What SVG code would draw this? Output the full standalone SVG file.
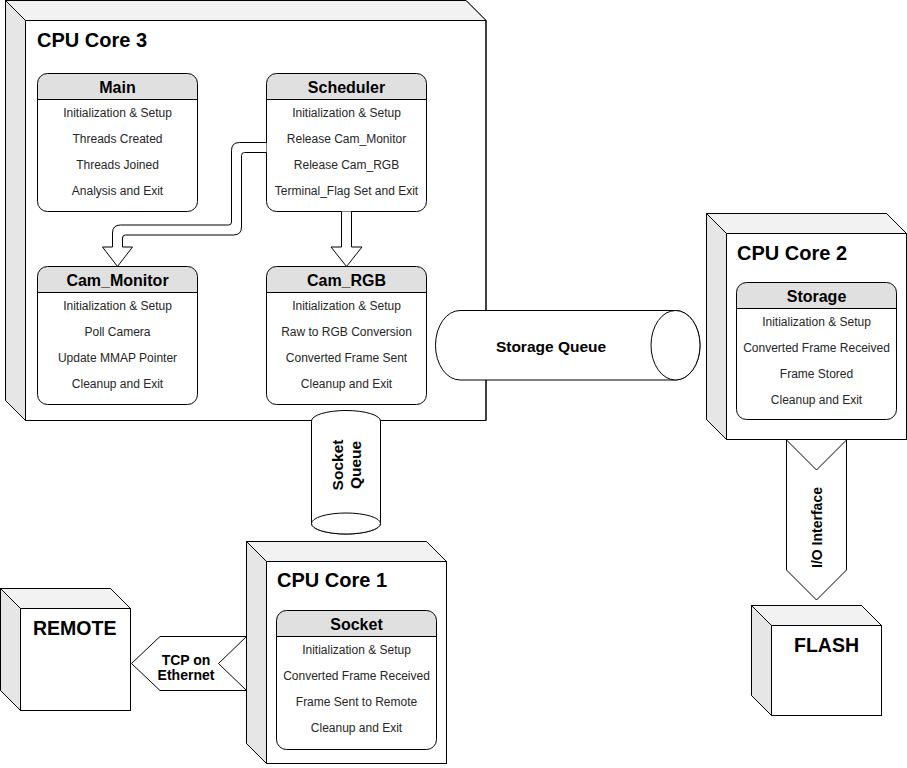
<svg xmlns="http://www.w3.org/2000/svg" width="907" height="768" viewBox="0 0 907 768">
<style>
.outer{fill:#fff;stroke:#000;stroke-width:1}
.top{fill:#f2f2f2;stroke:none}
.side{fill:#e6e6e6;stroke:none}
.edge{fill:none;stroke:#000;stroke-width:1}
.box{fill:none;stroke:#000;stroke-width:1}
.boxbg{fill:#fff;stroke:none}
.hdr{fill:#e0e0e0;stroke:none}
.title{font-family:"Liberation Sans",Arial,sans-serif;font-weight:bold;font-size:20px;fill:#000}
.big{font-family:"Liberation Sans",Arial,sans-serif;font-weight:bold;font-size:19.5px;fill:#000}
.hname{font-family:"Liberation Sans",Arial,sans-serif;font-weight:bold;font-size:16px;fill:#000;text-anchor:middle}
.item{font-family:"Liberation Sans",Arial,sans-serif;font-size:12px;fill:#262626;text-anchor:middle}
.lbl{font-family:"Liberation Sans",Arial,sans-serif;font-weight:bold;font-size:14px;fill:#000;text-anchor:middle}
.qlbl{font-family:"Liberation Sans",Arial,sans-serif;font-weight:bold;font-size:15.5px;fill:#000;text-anchor:middle}
.shape{fill:#fff;stroke:#000;stroke-width:1}
</style>

<!-- CPU Core 3 -->
<g id="core3">
  <path class="outer" d="M5.5,0.5 L466,0.5 L486,20.5 L486,420.5 L25.5,420.5 L5.5,400.5 Z"/>
  <path class="top" d="M5.5,0.5 L466,0.5 L486,20.5 L25.5,20.5 Z"/>
  <path class="side" d="M5.5,0.5 L25.5,20.5 L25.5,420.5 L5.5,400.5 Z"/>
  <path class="edge" d="M5.5,0.5 L466,0.5 L486,20.5 L486,420.5 L25.5,420.5 L5.5,400.5 Z M5.5,0.5 L25.5,20.5 L486,20.5 M25.5,20.5 L25.5,420.5"/>
  <text class="title" x="37" y="47">CPU Core 3</text>
</g>

<!-- CPU Core 2 -->
<g id="core2">
  <path class="outer" d="M706.5,213.5 L886.5,213.5 L906.5,233.5 L906.5,439.5 L726.5,439.5 L706.5,419.5 Z"/>
  <path class="top" d="M706.5,213.5 L886.5,213.5 L906.5,233.5 L726.5,233.5 Z"/>
  <path class="side" d="M706.5,213.5 L726.5,233.5 L726.5,439.5 L706.5,419.5 Z"/>
  <path class="edge" d="M706.5,213.5 L886.5,213.5 L906.5,233.5 L906.5,439.5 L726.5,439.5 L706.5,419.5 Z M706.5,213.5 L726.5,233.5 L906.5,233.5 M726.5,233.5 L726.5,439.5"/>
  <text class="title" x="737" y="260">CPU Core 2</text>
</g>

<!-- CPU Core 1 -->
<g id="core1">
  <path class="outer" d="M246.5,541.5 L426.5,541.5 L446.5,561.5 L446.5,763.5 L266.5,763.5 L246.5,743.5 Z"/>
  <path class="top" d="M246.5,541.5 L426.5,541.5 L446.5,561.5 L266.5,561.5 Z"/>
  <path class="side" d="M246.5,541.5 L266.5,561.5 L266.5,763.5 L246.5,743.5 Z"/>
  <path class="edge" d="M246.5,541.5 L426.5,541.5 L446.5,561.5 L446.5,763.5 L266.5,763.5 L246.5,743.5 Z M246.5,541.5 L266.5,561.5 L446.5,561.5 M266.5,561.5 L266.5,763.5"/>
  <text class="title" x="277" y="587">CPU Core 1</text>
</g>

<!-- REMOTE -->
<g id="remote">
  <path class="outer" d="M0.5,588.5 L110.5,588.5 L130.5,608.5 L130.5,710.5 L20.5,710.5 L0.5,690.5 Z"/>
  <path class="top" d="M0.5,588.5 L110.5,588.5 L130.5,608.5 L20.5,608.5 Z"/>
  <path class="side" d="M0.5,588.5 L20.5,608.5 L20.5,710.5 L0.5,690.5 Z"/>
  <path class="edge" d="M0.5,588.5 L110.5,588.5 L130.5,608.5 L130.5,710.5 L20.5,710.5 L0.5,690.5 Z M0.5,588.5 L20.5,608.5 L130.5,608.5 M20.5,608.5 L20.5,710.5"/>
  <text class="big" x="33" y="635">REMOTE</text>
</g>

<!-- FLASH -->
<g id="flash">
  <path class="outer" d="M751.5,605.5 L861.5,605.5 L881.5,625.5 L881.5,715.5 L771.5,715.5 L751.5,695.5 Z"/>
  <path class="top" d="M751.5,605.5 L861.5,605.5 L881.5,625.5 L771.5,625.5 Z"/>
  <path class="side" d="M751.5,605.5 L771.5,625.5 L771.5,715.5 L751.5,695.5 Z"/>
  <path class="edge" d="M751.5,605.5 L861.5,605.5 L881.5,625.5 L881.5,715.5 L771.5,715.5 L751.5,695.5 Z M751.5,605.5 L771.5,625.5 L881.5,625.5 M771.5,625.5 L771.5,715.5"/>
  <text class="big" x="794" y="652">FLASH</text>
</g>

<!-- Main -->
<g id="main">
  <rect class="boxbg" x="37.5" y="73.5" width="160" height="138" rx="10"/>
  <path class="hdr" d="M37.5,99.5 L37.5,83.5 A10,10 0 0 1 47.5,73.5 L187.5,73.5 A10,10 0 0 1 197.5,83.5 L197.5,99.5 Z"/>
  <path class="edge" d="M37.5,99.5 L197.5,99.5"/>
  <rect class="box" x="37.5" y="73.5" width="160" height="138" rx="10"/>
  <text class="hname" x="117.5" y="93">Main</text>
  <text class="item" x="117.5" y="116.5">Initialization &amp; Setup</text>
  <text class="item" x="117.5" y="142.5">Threads Created</text>
  <text class="item" x="117.5" y="168.5">Threads Joined</text>
  <text class="item" x="117.5" y="194.5">Analysis and Exit</text>
</g>

<!-- Scheduler -->
<g id="scheduler">
  <rect class="boxbg" x="266.5" y="73.5" width="160" height="138" rx="10"/>
  <path class="hdr" d="M266.5,99.5 L266.5,83.5 A10,10 0 0 1 276.5,73.5 L416.5,73.5 A10,10 0 0 1 426.5,83.5 L426.5,99.5 Z"/>
  <path class="edge" d="M266.5,99.5 L426.5,99.5"/>
  <rect class="box" x="266.5" y="73.5" width="160" height="138" rx="10"/>
  <text class="hname" x="346.5" y="93">Scheduler</text>
  <text class="item" x="346.5" y="116.5">Initialization &amp; Setup</text>
  <text class="item" x="346.5" y="142.5">Release Cam_Monitor</text>
  <text class="item" x="346.5" y="168.5">Release Cam_RGB</text>
  <text class="item" x="346.5" y="194.5">Terminal_Flag Set and Exit</text>
</g>

<!-- Cam_Monitor -->
<g id="cam_monitor">
  <rect class="boxbg" x="37.5" y="266.5" width="160" height="138" rx="10"/>
  <path class="hdr" d="M37.5,292.5 L37.5,276.5 A10,10 0 0 1 47.5,266.5 L187.5,266.5 A10,10 0 0 1 197.5,276.5 L197.5,292.5 Z"/>
  <path class="edge" d="M37.5,292.5 L197.5,292.5"/>
  <rect class="box" x="37.5" y="266.5" width="160" height="138" rx="10"/>
  <text class="hname" x="117.5" y="286">Cam_Monitor</text>
  <text class="item" x="117.5" y="310">Initialization &amp; Setup</text>
  <text class="item" x="117.5" y="336">Poll Camera</text>
  <text class="item" x="117.5" y="362">Update MMAP Pointer</text>
  <text class="item" x="117.5" y="388">Cleanup and Exit</text>
</g>

<!-- Cam_RGB -->
<g id="cam_rgb">
  <rect class="boxbg" x="266.5" y="266.5" width="160" height="138" rx="10"/>
  <path class="hdr" d="M266.5,292.5 L266.5,276.5 A10,10 0 0 1 276.5,266.5 L416.5,266.5 A10,10 0 0 1 426.5,276.5 L426.5,292.5 Z"/>
  <path class="edge" d="M266.5,292.5 L426.5,292.5"/>
  <rect class="box" x="266.5" y="266.5" width="160" height="138" rx="10"/>
  <text class="hname" x="346.5" y="286">Cam_RGB</text>
  <text class="item" x="346.5" y="310">Initialization &amp; Setup</text>
  <text class="item" x="346.5" y="336">Raw to RGB Conversion</text>
  <text class="item" x="346.5" y="362">Converted Frame Sent</text>
  <text class="item" x="346.5" y="388">Cleanup and Exit</text>
</g>

<!-- Storage -->
<g id="storage">
  <rect class="boxbg" x="736.5" y="282.5" width="160" height="137" rx="10"/>
  <path class="hdr" d="M736.5,308.5 L736.5,292.5 A10,10 0 0 1 746.5,282.5 L886.5,282.5 A10,10 0 0 1 896.5,292.5 L896.5,308.5 Z"/>
  <path class="edge" d="M736.5,308.5 L896.5,308.5"/>
  <rect class="box" x="736.5" y="282.5" width="160" height="137" rx="10"/>
  <text class="hname" x="816.5" y="302">Storage</text>
  <text class="item" x="816.5" y="325.5">Initialization &amp; Setup</text>
  <text class="item" x="816.5" y="351.5">Converted Frame Received</text>
  <text class="item" x="816.5" y="377.5">Frame Stored</text>
  <text class="item" x="816.5" y="403.5">Cleanup and Exit</text>
</g>

<!-- Socket -->
<g id="socket">
  <rect class="boxbg" x="276.5" y="610.5" width="160" height="139" rx="10"/>
  <path class="hdr" d="M276.5,636.5 L276.5,620.5 A10,10 0 0 1 286.5,610.5 L426.5,610.5 A10,10 0 0 1 436.5,620.5 L436.5,636.5 Z"/>
  <path class="edge" d="M276.5,636.5 L436.5,636.5"/>
  <rect class="box" x="276.5" y="610.5" width="160" height="139" rx="10"/>
  <text class="hname" x="356.5" y="630">Socket</text>
  <text class="item" x="356.5" y="653.5">Initialization &amp; Setup</text>
  <text class="item" x="356.5" y="679.5">Converted Frame Received</text>
  <text class="item" x="356.5" y="705.5">Frame Sent to Remote</text>
  <text class="item" x="356.5" y="731.5">Cleanup and Exit</text>
</g>

<!-- Storage Queue -->
<g id="storage_queue">
  <path class="shape" d="M460,310.5 L675.5,310.5 A24.5,34.75 0 0 1 675.5,380 L460,380 A24.5,34.75 0 0 1 460,310.5 Z"/>
  <ellipse class="shape" cx="675.5" cy="345.25" rx="24.5" ry="34.75"/>
  <text class="qlbl" x="551" y="351.5">Storage Queue</text>
</g>

<!-- Socket Queue -->
<g id="socket_queue">
  <path class="shape" d="M311.5,421 A34.5,10.5 0 0 1 380.5,421 L380.5,523.5 A34.5,10.5 0 0 1 311.5,523.5 Z"/>
  <ellipse class="shape" cx="346" cy="523.5" rx="34.5" ry="10.5"/>
  <g transform="translate(346,465) rotate(-90)">
    <text class="qlbl" x="0" y="-3">Socket</text>
    <text class="qlbl" x="0" y="15">Queue</text>
  </g>
</g>

<!-- Connectors -->
<g id="connectors">
  <path id="sched_to_cam_rgb" class="shape" d="M341.5,211.5 L341.5,247 L331,247 L346.5,266.5 L362,247 L351.5,247 L351.5,211.5"/>
  <path id="sched_to_cam_monitor" class="shape" d="M266.5,142.5 L239.5,142.5 Q231.5,142.5 231.5,150.5 L231.5,222 Q231.5,225 228.5,225 L120.5,225 Q112.5,225 112.5,233 L112.5,247 L102.5,247 L117.5,266.5 L132.5,247 L122.5,247 L122.5,238 Q122.5,235 125.5,235 L233.5,235 Q241.5,235 241.5,227 L241.5,155.5 Q241.5,152.5 244.5,152.5 L266.5,152.5"/>
  <g id="tcp_link">
    <path class="shape" d="M246.5,636.5 L160,636.5 L131.5,663.5 L160,690.5 L246.5,690.5 L218.5,663.5 Z"/>
    <text class="lbl" x="186" y="664.5">TCP on</text>
    <text class="lbl" x="186" y="680">Ethernet</text>
  </g>
  <g id="io_link">
    <path class="shape" d="M786.5,440 L816.5,470 L846.5,440 L846.5,570 L816.5,600 L786.5,570 Z"/>
    <text class="lbl" transform="translate(816.5,527.5) rotate(-90)" x="0" y="5">I/O Interface</text>
  </g>
</g>
</svg>
